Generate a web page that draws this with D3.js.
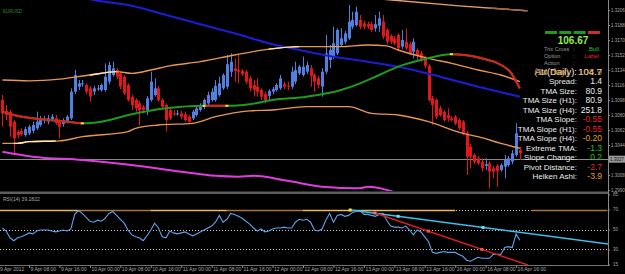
<!DOCTYPE html>
<html>
<head>
<meta charset="utf-8">
<script src="https://cdn.jsdelivr.net/npm/d3@7"></script>
<style>
  html, body { margin: 0; padding: 0; background: #000; overflow: hidden; }
  svg { display: block; }
  text { font-family: "Liberation Sans", Arial, sans-serif; }
</style>
</head>
<body>
<svg id="chart" width="625" height="274"></svg>
<script>
// ---- EURUSD H1 candles, 9 Apr 2012 01:00 .. 16 Apr 2012 17:00 ----
const opens = [
  1.3098,1.3085,1.3084,1.3072,1.3060,1.3061,1.3056,1.3058,1.3061,1.3064,
  1.3068,1.3074,1.3072,1.3075,1.3076,1.3073,1.3069,1.3073,1.3076,1.3108,
  1.3114,1.3117,1.3116,1.3112,1.3108,1.3111,1.3110,1.3110,1.3120,1.3128,
  1.3134,1.3130,1.3126,1.3116,1.3102,1.3098,1.3094,1.3090,1.3086,1.3098,
  1.3104,1.3112,1.3098,1.3092,1.3086,1.3082,1.3081,1.3082,1.3081,1.3078,
  1.3076,1.3080,1.3086,1.3090,1.3094,1.3098,1.3098,1.3104,1.3112,1.3114,
  1.3132,1.3136,1.3134,1.3133,1.3132,1.3124,1.3116,1.3114,1.3110,1.3105,
  1.3103,1.3108,1.3110,1.3112,1.3117,1.3115,1.3114,1.3120,1.3130,1.3128,
  1.3132,1.3136,1.3128,1.3124,1.3114,1.3132,1.3146,1.3150,1.3154,1.3164,
  1.3168,1.3172,1.3186,1.3188,1.3194,1.3190,1.3189,1.3189,1.3184,1.3187,
  1.3192,1.3182,1.3175,1.3172,1.3176,1.3162,1.3168,1.3165,1.3156,1.3158,
  1.3154,1.3148,1.3139,1.3100,1.3098,1.3088,1.3084,1.3080,1.3076,1.3078,
  1.3074,1.3072,1.3058,1.3042,1.3032,1.3028,1.3024,1.3019,1.3022,1.3016,
  1.3019,1.3014,1.3018,1.3020,1.3024,1.3032,1.3038
];
const highs = [
  1.3104,1.3092,1.3086,1.3074,1.3062,1.3064,1.3066,1.3068,1.3072,1.3084,
  1.3079,1.3079,1.3080,1.3081,1.3080,1.3075,1.3076,1.3080,1.3112,1.3134,
  1.3122,1.3122,1.3118,1.3115,1.3115,1.3116,1.3118,1.3142,1.3144,1.3144,
  1.3136,1.3133,1.3128,1.3118,1.3104,1.3100,1.3097,1.3092,1.3103,1.3132,
  1.3124,1.3115,1.3100,1.3094,1.3088,1.3086,1.3086,1.3085,1.3084,1.3080,
  1.3086,1.3091,1.3094,1.3100,1.3108,1.3112,1.3122,1.3126,1.3130,1.3152,
  1.3154,1.3148,1.3152,1.3135,1.3134,1.3127,1.3122,1.3124,1.3112,1.3108,
  1.3111,1.3114,1.3118,1.3128,1.3120,1.3120,1.3138,1.3144,1.3140,1.3150,
  1.3144,1.3140,1.3130,1.3127,1.3136,1.3176,1.3164,1.3186,1.3184,1.3184,
  1.3181,1.3212,1.3204,1.3210,1.3200,1.3193,1.3192,1.3192,1.3200,1.3204,
  1.3200,1.3184,1.3177,1.3175,1.3178,1.3182,1.3184,1.3168,1.3172,1.3160,
  1.3157,1.3151,1.3141,1.3103,1.3100,1.3091,1.3086,1.3088,1.3079,1.3080,
  1.3076,1.3074,1.3061,1.3046,1.3034,1.3031,1.3028,1.3028,1.3025,1.3019,
  1.3021,1.3022,1.3032,1.3031,1.3038,1.3070,1.3042
];
const lows = [
  1.3066,1.3074,1.3054,1.3034,1.3052,1.3055,1.3054,1.3056,1.3058,1.3062,
  1.3066,1.3070,1.3069,1.3073,1.3068,1.3052,1.3066,1.3070,1.3074,1.3105,
  1.3110,1.3114,1.3105,1.3096,1.3104,1.3109,1.3108,1.3108,1.3117,1.3126,
  1.3123,1.3111,1.3104,1.3096,1.3086,1.3084,1.3068,1.3082,1.3080,1.3096,
  1.3102,1.3096,1.3087,1.3060,1.3074,1.3079,1.3079,1.3075,1.3072,1.3069,
  1.3074,1.3078,1.3084,1.3087,1.3092,1.3096,1.3096,1.3102,1.3110,1.3111,
  1.3126,1.3120,1.3118,1.3127,1.3117,1.3108,1.3102,1.3102,1.3098,1.3094,
  1.3098,1.3105,1.3108,1.3110,1.3111,1.3110,1.3111,1.3117,1.3128,1.3126,
  1.3129,1.3114,1.3108,1.3112,1.3102,1.3129,1.3136,1.3147,1.3152,1.3162,
  1.3165,1.3170,1.3183,1.3186,1.3183,1.3183,1.3183,1.3180,1.3180,1.3180,
  1.3171,1.3165,1.3165,1.3164,1.3158,1.3159,1.3158,1.3152,1.3148,1.3144,
  1.3144,1.3136,1.3096,1.3068,1.3075,1.3078,1.3072,1.3072,1.3072,1.3068,
  1.3062,1.3056,1.3008,1.3016,1.3021,1.3020,1.3012,1.3014,1.2992,1.3004,
  1.2994,1.3012,1.3004,1.3018,1.3021,1.3030,1.3026
];
const closes = [
  1.3082,1.3080,1.3066,1.3052,1.3056,1.3057,1.3063,1.3066,1.3068,1.3072,
  1.3076,1.3075,1.3076,1.3078,1.3070,1.3066,1.3074,1.3078,1.3108,1.3128,
  1.3118,1.3118,1.3108,1.3102,1.3112,1.3112,1.3116,1.3126,1.3140,1.3136,
  1.3126,1.3114,1.3106,1.3098,1.3092,1.3088,1.3086,1.3086,1.3100,1.3120,
  1.3112,1.3098,1.3090,1.3074,1.3076,1.3081,1.3082,1.3078,1.3074,1.3072,
  1.3084,1.3088,1.3092,1.3098,1.3104,1.3108,1.3115,1.3118,1.3128,1.3141,
  1.3144,1.3133,1.3132,1.3129,1.3120,1.3112,1.3110,1.3108,1.3102,1.3098,
  1.3109,1.3111,1.3116,1.3124,1.3114,1.3114,1.3132,1.3134,1.3138,1.3138,
  1.3140,1.3127,1.3120,1.3116,1.3132,1.3154,1.3158,1.3166,1.3182,1.3172,
  1.3178,1.3192,1.3194,1.3204,1.3186,1.3186,1.3186,1.3182,1.3189,1.3196,
  1.3174,1.3168,1.3168,1.3166,1.3160,1.3170,1.3160,1.3154,1.3168,1.3152,
  1.3146,1.3139,1.3098,1.3092,1.3078,1.3080,1.3074,1.3076,1.3074,1.3070,
  1.3064,1.3058,1.3030,1.3030,1.3024,1.3022,1.3016,1.3021,1.3012,1.3012,
  1.3013,1.3020,1.3026,1.3028,1.3034,1.3058,1.3034
];

// RSI(14), one value per bar
const rsiValues = [
  51.5,48.5,41.7,38.8,41.7,42.7,44.6,46.6,45.6,48.5,
  49.5,49.5,49.5,48.5,47.6,48.5,49.5,48.5,50.5,65.1,
  69.0,66.1,62.2,58.3,57.3,59.3,58.3,61.2,66.1,68.0,
  64.1,60.2,56.3,49.5,44.6,42.7,41.7,38.8,43.7,49.5,
  56.3,51.5,42.7,41.7,48.5,46.6,45.6,46.6,47.6,45.6,
  43.7,45.6,47.6,49.5,51.5,53.4,57.3,64.1,57.3,60.2,
  66.1,65.1,63.2,61.2,58.3,55.4,51.5,48.5,50.5,47.6,
  48.5,50.5,51.5,51.5,52.4,51.5,51.5,57.3,60.2,59.3,
  60.2,57.3,49.5,48.5,50.5,59.3,66.1,57.3,64.1,65.1,
  63.2,64.1,67.1,68.0,69.0,65.1,65.1,64.1,63.2,65.1,
  66.1,59.3,53.4,52.4,52.4,51.5,53.4,49.5,44.6,49.5,
  47.6,42.7,37.8,27.1,26.1,27.1,28.0,27.1,27.1,27.1,
  25.1,23.2,19.3,18.3,20.2,22.2,21.2,21.2,21.2,25.1,
  25.1,25.1,32.0,32.9,32.0,45.6,39.1822
];

// indicator lines, [bar, price]
const slowMa = [[12,1.3232],[24,1.3218],[34,1.3211],[43,1.3200],[52,1.3189],[61,1.3178],[70,1.3166],
  [78,1.3158],[87,1.3150],[96,1.3144],[104,1.3138],[115,1.3126],[125,1.3114],[136,1.3102]];
const tmaUpper = [[0,1.3122],[7,1.3121],[15,1.3123],[23,1.3128],[30,1.3132],[34,1.3130],[39,1.3134],
  [44,1.3139],[52,1.3144],[61,1.3152],[70,1.3159],[78,1.3162],[89,1.3162],[96,1.3164],[101,1.3163],
  [104,1.3158],[112,1.3148],[118,1.3142],[125,1.3134],[131,1.3128],[136,1.3120]];
const tmaLower = [[0,1.3046],[4,1.3046],[7,1.3048],[15,1.3049],[21,1.3054],[33,1.3060],[35,1.3064],
  [41,1.3068],[50,1.3070],[56,1.3078],[65,1.3085],[71,1.3086],[80,1.3090],[91,1.3090],[97,1.3082],
  [104,1.3080],[112,1.3072],[121,1.3058],[125,1.3054],[131,1.3046],[136,1.3040]];
const tmaCenter = [[0,1.3084],[3,1.3080],[8,1.3076],[17,1.3072],[21,1.3070],[26,1.3072],[34,1.3081],
  [43,1.3088],[53,1.3091],[59,1.3091],[65,1.3093],[71,1.3098],[80,1.3102],[89,1.3110],[94,1.3118],
  [99,1.3128],[104,1.3138],[110,1.3146],[118,1.3153],[126,1.3148],[133,1.3134],[136,1.3112]];
const tmaDownRanges = [[0,21],[53,59],[118,137]];
const tmaTurns = [21,53,59,118];
const upperLight = [[23,30],[70,78]];
const lowerLight = [[3,14]];
const h4Upper = [[100,1.3219],[120,1.3211],[138,1.3205]];
const magentaMa = [[0,1.3036],[8,1.3030],[21,1.3026],[34,1.3020],[47,1.3012],[56,1.3007],[62,1.3006],
  [66,1.3007],[75,1.3001],[84,1.2994],[94,1.2992],[96,1.2994],[104,1.2986]];

const bidPrice = 1.3027;
const priceTicks = [1.3206,1.3188,1.3170,1.3152,1.3134,1.3116,1.3098,1.3080,1.3062,1.3044,1.3008,1.2990];
const rsiTicks = [85,70,50,30,15];
const rsiLevels = [70,50,30];
// coloured 70-level band segments (bar ranges)
const rsiBandBright = [[-1,20],[39,59],[79,119]];
const rsiBandDark = [[20,39],[59,79],[139,159]];
// RSI trendlines [bar, rsi]
const rsiTrendBlue = [[91.4,69.5],[159.2,35.5]];
const rsiTrendRed = [[97.9,66.5],[138.1,14.5]];
const blueTouches = [104,126.3];
const redTouches = [111.9,126];

const timeTickBars = [-1,7,15,23,31,39,47,55,63,71,79,87,95,103,111,119,127,135];
const timeTickLabels = ["9 Apr 2012","9 Apr 08:00","9 Apr 16:00","10 Apr 00:00","10 Apr 08:00",
  "10 Apr 16:00","11 Apr 00:00","11 Apr 08:00","11 Apr 16:00","12 Apr 00:00","12 Apr 08:00",
  "12 Apr 16:00","13 Apr 00:00","13 Apr 08:00","13 Apr 16:00","16 Apr 00:00","16 Apr 08:00","16 Apr 16:00"];

// dashboard
const signalBars = ["up","up","up","down"];
const headline = "106.67";
const infoLabels = ["Trix Cross","Option","Action"];
const infoValues = ["Bull","Label",""];
const infoKinds = ["pos","neg","plain"];
const statLabels = ["Spread:","TMA Size:","TMA Size (H1):","TMA Size (H4):","TMA Slope:","TMA Slope (H1):",
  "TMA Slope (H4):","Extreme TMA:","Slope Change:","Pivot Distance:","Heiken Ashi:"];
const statValues = ["1.4","80.9","80.9","251.8","-0.55","-0.55","-0.20","-1.3","0.2","-2.7","-3.9"];
const statKinds = ["plain","plain","plain","plain","neg","neg","warn","pos","pos","neg","warn"];

const kindColor = { plain: "#ececec", neg: "#e02626", warn: "#e8a020", pos: "#27c427" };

const W = 625, H = 274, plotRight = 608;
const svg = d3.select("#chart");
svg.append("rect").attr("width", W).attr("height", H).attr("fill", "#000");

const x = d3.scaleLinear().domain([0, 136]).range([2.4, 519.9]);
const y = d3.scaleLinear().domain([1.3218, 1.2988]).range([0, 191.67]);
const yR = d3.scaleLinear().domain([85, 15]).range([194.5, 264.5]);

const defs = svg.append("defs");
defs.append("clipPath").attr("id", "clipMain").append("rect")
  .attr("x", 0).attr("y", 0).attr("width", plotRight).attr("height", 191);
defs.append("clipPath").attr("id", "clipRsi").append("rect")
  .attr("x", 0).attr("y", 195).attr("width", plotRight).attr("height", 70);

let clipNo = 0;
function rangeClip(a, b, y0, y1) {
  const id = "rc" + (clipNo++);
  defs.append("clipPath").attr("id", id).append("rect")
    .attr("x", x(a)).attr("y", y0).attr("width", x(b) - x(a)).attr("height", y1 - y0);
  return "url(#" + id + ")";
}

const main = svg.append("g").attr("clip-path", "url(#clipMain)");

// bid line
main.append("line")
  .attr("x1", 0).attr("x2", plotRight)
  .attr("y1", Math.round(y(bidPrice)) + 0.5).attr("y2", Math.round(y(bidPrice)) + 0.5)
  .attr("stroke", "#8a8a8a").attr("stroke-width", 1);

// candles
const bars = opens.map((o, i) => ({ i, o, h: highs[i], l: lows[i], c: closes[i] }));
const candle = main.append("g").selectAll("g").data(bars).join("g")
  .attr("fill", d => d.c >= d.o ? "#5080e0" : "#e3171b")
  .attr("stroke", d => d.c >= d.o ? "#5080e0" : "#e3171b");
candle.append("line")
  .attr("x1", d => Math.round(x(d.i)) + 0.5).attr("x2", d => Math.round(x(d.i)) + 0.5)
  .attr("y1", d => y(d.h)).attr("y2", d => y(d.l)).attr("stroke-width", 1);
candle.append("rect")
  .attr("stroke", "none")
  .attr("x", d => Math.round(x(d.i)) - 1).attr("width", 3)
  .attr("y", d => y(Math.max(d.o, d.c)))
  .attr("height", d => Math.max(1, Math.abs(y(d.o) - y(d.c))));

const line = d3.line().x(d => x(d[0])).y(d => y(d[1])).curve(d3.curveMonotoneX);

function path(g, pts, color, w, clip) {
  const p = g.append("path").datum(pts).attr("d", line)
    .attr("fill", "none").attr("stroke", color).attr("stroke-width", w)
    .attr("stroke-linejoin", "round");
  if (clip) p.attr("clip-path", clip);
  return p;
}

path(main, slowMa, "#1c1cd4", 2);
path(main, magentaMa, "#e03ce0", 2);
path(main, tmaUpper, "#e89650", 1.4);
upperLight.forEach(r => path(main, tmaUpper, "#ffe2b8", 1.4, rangeClip(r[0], r[1], 0, 192)));
path(main, tmaLower, "#e89650", 1.4);
lowerLight.forEach(r => path(main, tmaLower, "#ffe2b8", 1.4, rangeClip(r[0], r[1], 0, 192)));
path(main, h4Upper, "#e3a060", 1.4);
path(main, h4Upper, "#9a6a3a", 1.4, rangeClip(128, 140, 0, 192));

path(main, tmaCenter, "#1e9a1e", 2);
tmaDownRanges.forEach(r => path(main, tmaCenter, "#e01e1e", 2, rangeClip(r[0], r[1], 0, 192)));
const turnPts = tmaCenter.filter(p => tmaTurns.includes(p[0]));
main.append("g").selectAll("rect").data(turnPts).join("rect")
  .attr("x", d => x(d[0]) - 1.5).attr("y", d => y(d[1]) - 1)
  .attr("width", 3).attr("height", 2).attr("fill", "#f0e040");

// separator + frame
svg.append("rect").attr("x", 0).attr("y", 191.5).attr("width", plotRight).attr("height", 2.5).attr("fill", "#5e5e5e");
svg.append("line").attr("x1", 0).attr("x2", plotRight).attr("y1", 265.5).attr("y2", 265.5)
  .attr("stroke", "#707070");
svg.append("line").attr("x1", plotRight + 0.5).attr("x2", plotRight + 0.5).attr("y1", 0).attr("y2", 266)
  .attr("stroke", "#8a8a8a");

// ---- RSI panel ----
const rsi = svg.append("g").attr("clip-path", "url(#clipRsi)");
rsi.selectAll("line.lvl").data(rsiLevels).join("line").attr("class", "lvl")
  .attr("x1", 0).attr("x2", plotRight)
  .attr("y1", d => Math.round(yR(d)) + 0.5).attr("y2", d => Math.round(yR(d)) + 0.5)
  .attr("stroke", "#c8c8c8").attr("stroke-dasharray", "1,2");
const y70 = Math.round(yR(70)) + 0.5;
rsi.selectAll("line.bb").data(rsiBandBright).join("line").attr("class", "bb")
  .attr("x1", d => x(d[0])).attr("x2", d => x(d[1])).attr("y1", y70).attr("y2", y70)
  .attr("stroke", "#f2b45a").attr("stroke-width", 1.3);
rsi.selectAll("line.bd").data(rsiBandDark).join("line").attr("class", "bd")
  .attr("x1", d => x(d[0])).attr("x2", d => x(d[1])).attr("y1", y70).attr("y2", y70)
  .attr("stroke", "#a8743c").attr("stroke-width", 1.3);

const rsiLine = d3.line().x((d, i) => x(i)).y(d => yR(d));
rsi.append("path").datum(rsiValues).attr("d", rsiLine)
  .attr("fill", "none").attr("stroke", "#5ea2ec").attr("stroke-width", 1.1);

const tline = d3.line().x(d => x(d[0])).y(d => yR(d[1]));
rsi.append("path").datum(rsiTrendBlue).attr("d", tline).attr("stroke", "#3cc0ea").attr("stroke-width", 1.6);
rsi.append("path").datum(rsiTrendRed).attr("d", tline).attr("stroke", "#dc1e1e").attr("stroke-width", 1.4);
function onTrend(t, b) {
  const f = (b - t[0][0]) / (t[1][0] - t[0][0]);
  return [b, t[0][1] + f * (t[1][1] - t[0][1])];
}
const dots = [
  { p: rsiTrendBlue[0], c: "#f0e040" },
  { p: rsiTrendRed[0], c: "#ff6a8a" },
  ...blueTouches.map(b => ({ p: onTrend(rsiTrendBlue, b), c: "#60e0ff" })),
  ...redTouches.map(b => ({ p: onTrend(rsiTrendRed, b), c: "#ff5050" }))
];
rsi.append("g").selectAll("rect").data(dots).join("rect")
  .attr("x", d => x(d.p[0]) - 1.5).attr("y", d => yR(d.p[1]) - 1.5)
  .attr("width", 3).attr("height", 3).attr("fill", d => d.c);

svg.append("text").attr("x", 3).attr("y", 201).attr("fill", "#a8a8a8").attr("font-size", 5)
  .text("RSI(14) " + rsiValues[rsiValues.length - 1].toFixed(4));

// ---- axes ----
function styleAxis(g) {
  g.attr("font-family", "Liberation Sans, Arial, sans-serif").attr("font-size", 4.5);
  g.select(".domain").remove();
  g.selectAll(".tick line").attr("stroke", "#8a8a8a");
  g.selectAll(".tick text").attr("fill", "#a8a8a8");
}
svg.append("g").attr("transform", `translate(${plotRight},0)`)
  .call(d3.axisRight(y).tickValues(priceTicks).tickFormat(d3.format(".4f")).tickSize(2).tickPadding(1))
  .call(styleAxis);
svg.append("g").attr("transform", `translate(${plotRight},0)`)
  .call(d3.axisRight(yR).tickValues(rsiTicks).tickSize(2).tickPadding(3))
  .call(styleAxis);
const tAxis = svg.append("g").attr("transform", "translate(0,265)")
  .call(d3.axisBottom(x).tickValues(timeTickBars).tickFormat((d, i) => timeTickLabels[i]).tickSize(3))
  .call(styleAxis);
tAxis.attr("font-size", 5);
tAxis.selectAll(".tick text").attr("text-anchor", "start").attr("x", 1).attr("y", 2.5);

// bid box
const by = y(bidPrice);
svg.append("rect").attr("x", plotRight + 1).attr("y", by - 3.5).attr("width", 16).attr("height", 7).attr("fill", "#9a9a9a");
svg.append("text").attr("x", plotRight + 2).attr("y", by + 1.6).attr("font-size", 4.5).attr("fill", "#111")
  .text(bidPrice.toFixed(4));

// ---- top-left label ----
svg.append("text").attr("x", 3).attr("y", 12.5).attr("font-size", 4.5).attr("fill", "#2e8a2e").text("EURUSD");

// ---- dashboard ----
const dash = svg.append("g");
dash.selectAll("rect.sig").data(signalBars).join("rect").attr("class", "sig")
  .attr("x", (d, i) => 545 + i * 14.3).attr("y", 31).attr("width", 12).attr("height", 3)
  .attr("fill", d => d === "up" ? "#1e9a1e" : "#c83030");
dash.append("text").attr("x", 573).attr("y", 44).attr("text-anchor", "middle")
  .attr("font-size", 10).attr("font-weight", "bold").attr("fill", "#8cf04a").text(headline);
infoLabels.forEach((t, i) => {
  const yy = 50.5 + i * 7;
  dash.append("text").attr("x", 544).attr("y", yy).attr("font-size", 5.6).attr("fill", "#9a9a9a").text(t);
  dash.append("text").attr("x", 573).attr("y", yy).attr("font-size", 5.6).attr("fill", "#9a9a9a").text(":");
  dash.append("text").attr("x", 599).attr("y", yy).attr("text-anchor", "end").attr("font-size", 6)
    .attr("fill", infoKinds[i] === "plain" ? "#9a9a9a" : kindColor[infoKinds[i]]).text(infoValues[i]);
});
// ATR row: two indicator outputs printed on top of each other, as in the source
dash.append("text").attr("x", 577).attr("y", 74.5).attr("text-anchor", "end").attr("font-size", 9.5)
  .attr("fill", "#ececec").text("Atr(Daily):");
dash.append("text").attr("x", 569).attr("y", 74.5).attr("text-anchor", "end").attr("font-size", 9.5)
  .attr("fill", "#e8a020").attr("opacity", 0.85).text("(14 day)");
dash.append("text").attr("x", 602).attr("y", 74.5).attr("text-anchor", "end").attr("font-size", 9.5)
  .attr("fill", "#ececec").text("104.7");
dash.append("text").attr("x", 602).attr("y", 74.5).attr("text-anchor", "end").attr("font-size", 9.5)
  .attr("fill", "#e8a020").attr("opacity", 0.7).text("108.9");
statLabels.forEach((t, i) => {
  const yy = 84 + i * 9.5;
  dash.append("text").attr("x", 577).attr("y", yy).attr("text-anchor", "end").attr("font-size", 8)
    .attr("fill", "#ececec").text(t);
  dash.append("text").attr("x", 602).attr("y", yy).attr("text-anchor", "end").attr("font-size", 8.5)
    .attr("fill", kindColor[statKinds[i]]).text(statValues[i]);
});
</script>
</body>
</html>
